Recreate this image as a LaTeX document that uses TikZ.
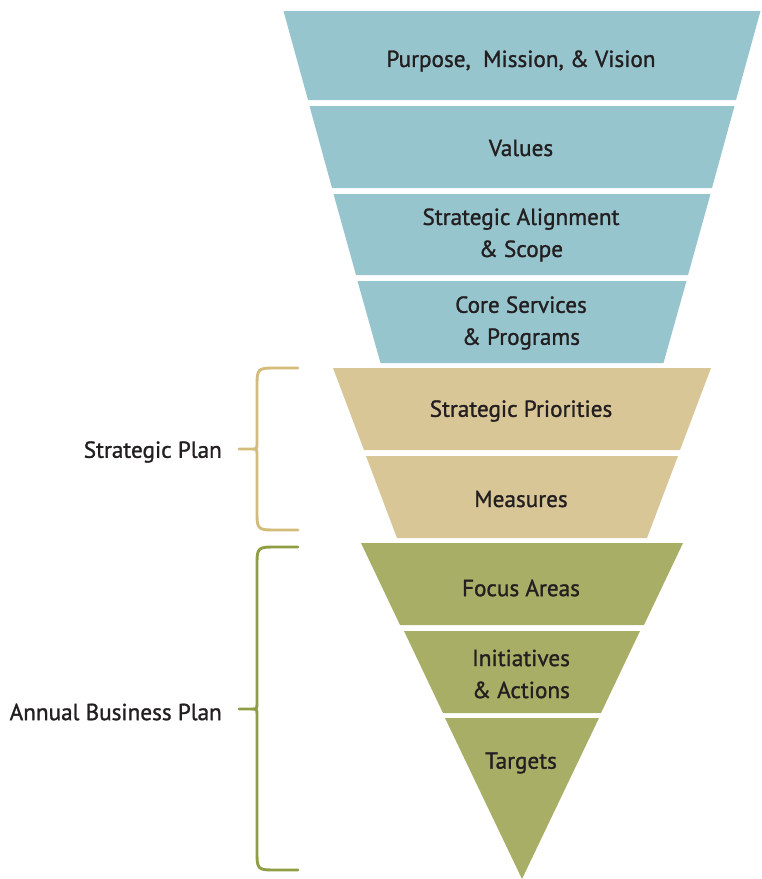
\documentclass[tikz,border=0pt]{standalone}
\usepackage{fontspec}
\setmainfont[FakeBold=1.2]{PT Sans}
\usepackage{tikz}
\usetikzlibrary{positioning}
\definecolor{funnelblue}{HTML}{97C5CE}
\definecolor{funnelsand}{HTML}{D8C697}
\definecolor{funnelolive}{HTML}{A8AE66}
\definecolor{bracesand}{HTML}{D3BC7A}
\definecolor{braceolive}{HTML}{8F9D45}
\definecolor{inkdark}{HTML}{231F20}

\begin{document}
\begin{tikzpicture}[
    x=1pt, y=-1pt,
    lbl/.style={text=inkdark, align=center, inner sep=0pt,
                font=\fontsize{23.2}{32}\selectfont},
    side/.style={lbl, anchor=east},
    brace/.style={line width=2.9pt, line cap=round, line join=round},
]
\useasboundingbox (0,0) rectangle (762,879);

% funnel bands: top, bottom, half width at top, half width at bottom
\foreach \ya/\yb/\wa/\wb/\col in {
    11/100/238.5/214/funnelblue, 106/188/212.5/190/funnelblue,
    194/275/188.5/166/funnelblue, 281/363/164.5/141.5/funnelblue,
    368/450/189/158/funnelsand, 456/538/156/125/funnelsand,
    543/625/161/122/funnelolive, 631/713/118/79/funnelolive,
    718/879/77/0/funnelolive}
  \fill[\col] (522-\wa,\ya) -- (522+\wa,\ya) -- (522+\wb,\yb) -- (522-\wb,\yb) -- cycle;

\node[lbl] (purpose) at (521,61) {Purpose,\ \ Mission, \& Vision};
\node[lbl] (values) at (521,148) {Values};
\node[lbl] (align) at (521,235) {Strategic Alignment\\\& Scope};
\node[lbl] (core) at (521,323) {Core Services\\\& Programs};
\node[lbl] (prio) at (521,411) {Strategic Priorities};
\node[lbl] (measures) at (521,499) {Measures};
\node[lbl] (focus) at (521,588) {Focus Areas};
\node[lbl] (init) at (521,674) {Initiatives\\\& Actions};
\node[lbl] (targets) at (521,763) {Targets};

% braces on the left
\draw[brace, bracesand] (298,368) -- (277,368) .. controls (257,368) .. (257,388)
  -- (257,443) .. controls (257,449) .. (251,449) -- (239,449)
  (251,449) .. controls (257,449) .. (257,455) -- (257,510)
  .. controls (257,530) .. (277,530) -- (298,530);
\draw[brace, braceolive] (298,547) -- (277,547) .. controls (257,547) .. (257,567)
  -- (257,703) .. controls (257,709) .. (251,709) -- (239,709)
  (251,709) .. controls (257,709) .. (257,715) -- (257,850)
  .. controls (257,870) .. (277,870) -- (298,870);

\node[side] (splan) at (222,452) {Strategic Plan};
\node[side] (bplan) at (222,712) {Annual Business Plan};
\end{tikzpicture}
\end{document}
